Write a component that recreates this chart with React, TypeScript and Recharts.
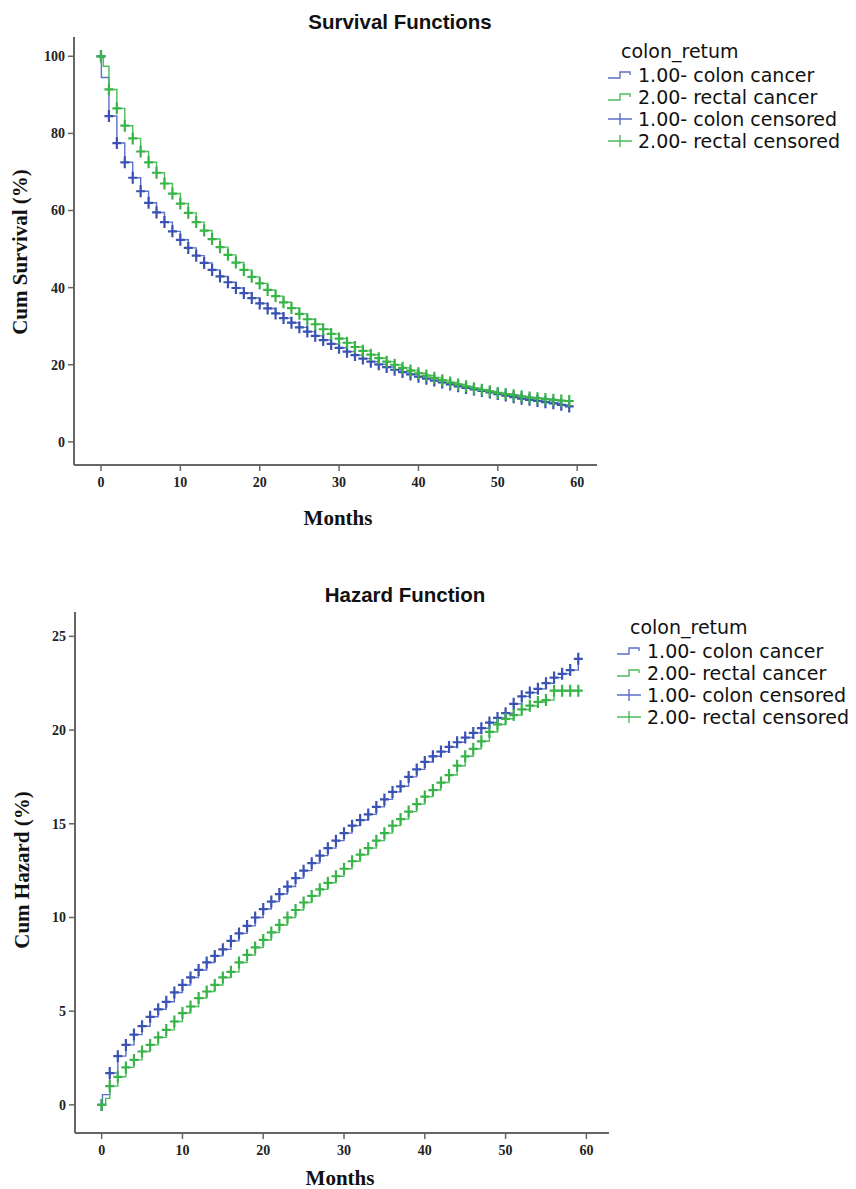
import React from "react";
import { ComposedChart, Line, Scatter, XAxis, YAxis } from "recharts";

// ---- data ----
const months = [
  0, 1, 2, 3, 4, 5, 6, 7, 8, 9, 10, 11, 12, 13, 14, 15, 16, 17, 18, 19,
  20, 21, 22, 23, 24, 25, 26, 27, 28, 29, 30, 31, 32, 33, 34, 35, 36, 37, 38, 39,
  40, 41, 42, 43, 44, 45, 46, 47, 48, 49, 50, 51, 52, 53, 54, 55, 56, 57, 58, 59,
];
const monthTicks = [0, 10, 20, 30, 40, 50, 60];
const survivalTicks = [0, 20, 40, 60, 80, 100];
const hazardTicks = [0, 5, 10, 15, 20, 25];

const survColon = [
  100, 84.5, 77.5, 72.5, 68.5, 65, 62, 59.5, 57, 54.6,
  52.4, 50.3, 48.3, 46.4, 44.6, 42.9, 41.4, 39.9, 38.6, 37.3,
  35.9, 34.6, 33.3, 32.1, 30.9, 29.7, 28.6, 27.5, 26.4, 25.4,
  24.4, 23.4, 22.5, 21.6, 20.8, 20.1, 19.4, 18.7, 18.1, 17.5,
  16.9, 16.4, 15.9, 15.4, 14.9, 14.4, 14.0, 13.6, 13.2, 12.8,
  12.4, 12.0, 11.6, 11.2, 10.9, 10.6, 10.3, 10.0, 9.6, 9.2,
];
const survRectal = [
  100, 91.4, 86.5, 82, 78.7, 75.3, 72.5, 69.8, 67, 64.4,
  61.8, 59.4, 57, 54.8, 52.6, 50.5, 48.5, 46.5, 44.6, 42.8,
  41.1, 39.4, 37.8, 36.2, 34.7, 33.2, 31.8, 30.5, 29.2, 28,
  26.8, 25.7, 24.6, 23.6, 22.6, 21.7, 20.8, 20.0, 19.2, 18.5,
  17.8, 17.2, 16.6, 16.0, 15.4, 14.9, 14.4, 13.9, 13.5, 13.1,
  12.7, 12.4, 12.1, 11.8, 11.5, 11.3, 11.1, 10.9, 10.7, 10.6,
];
const hazColon = [
  0, 1.7, 2.6, 3.2, 3.75, 4.2, 4.7, 5.1, 5.5, 6.0,
  6.4, 6.8, 7.2, 7.6, 7.95, 8.3, 8.75, 9.15, 9.55, 10.0,
  10.45, 10.85, 11.25, 11.65, 12.1, 12.5, 12.9, 13.3, 13.7, 14.1,
  14.5, 14.9, 15.2, 15.5, 15.9, 16.3, 16.7, 17.0, 17.5, 17.9,
  18.3, 18.6, 18.85, 19.1, 19.35, 19.6, 19.85, 20.1, 20.4, 20.65,
  20.9, 21.4, 21.8, 22.0, 22.2, 22.5, 22.8, 23.0, 23.2, 23.8,
];
const hazRectal = [
  0, 1.0, 1.5, 2.0, 2.4, 2.85, 3.2, 3.6, 4.0, 4.45,
  4.9, 5.25, 5.7, 6.05, 6.4, 6.8, 7.1, 7.6, 8.0, 8.4,
  8.8, 9.2, 9.6, 10.0, 10.4, 10.8, 11.15, 11.5, 11.85, 12.2,
  12.6, 13.0, 13.35, 13.7, 14.1, 14.5, 14.9, 15.25, 15.65, 16.05,
  16.45, 16.8, 17.2, 17.6, 18.1, 18.6, 19.0, 19.4, 19.9, 20.3,
  20.6, 20.8, 21.1, 21.3, 21.5, 21.6, 22.1, 22.1, 22.1, 22.1,
];
// early (sub-month) event steps: [month, value]
const survColonEarly = [0.05, 94.5];
const survRectalEarly = [0.3, 97.4];
const hazColonEarly = [0.1, 0.55];
const hazRectalEarly = [0.5, 0.35];

const legendTitle = "colon_retum";
const legendItems = [
  "1.00- colon cancer",
  "2.00- rectal cancer",
  "1.00- colon censored",
  "2.00- rectal censored",
];

// ---- styling ----
const BLUE_MARK = "#3A52B2";
const BLUE_LINE = "#5C70C8";
const GREEN_MARK = "#38B449";
const GREEN_LINE = "#4DBC5B";
const AXIS = "#666666";
const Y_W = 60;
const X_H = 30;

const marks = (vals: number[]) => months.map((m, i) => ({ m, v: vals[i] }));
const stepLine = (vals: number[], early: number[]) => {
  const pts = marks(vals);
  return [pts[0], { m: early[0], v: early[1] }, ...pts.slice(1)];
};

const Plus = (color: string) => (props: any) => {
  const { cx, cy } = props;
  if (cx == null || cy == null) return <g />;
  return (
    <path
      d={`M${cx - 4.5},${cy}H${cx + 4.5}M${cx},${cy - 6}V${cy + 6}`}
      stroke={color}
      strokeWidth={2.2}
      fill="none"
    />
  );
};

const tickStyle = {
  fontFamily: "'Liberation Serif', 'Times New Roman', serif",
  fontWeight: 700,
  fontSize: 14,
  fill: "#222",
};

const serifTitle: React.CSSProperties = {
  position: "absolute",
  fontFamily: "'Liberation Serif', 'Times New Roman', serif",
  fontWeight: 700,
  fontSize: 21,
  color: "#111",
  whiteSpace: "nowrap",
};

const sansTitle: React.CSSProperties = {
  position: "absolute",
  fontFamily: "'Liberation Sans', Arial, sans-serif",
  fontWeight: 700,
  fontSize: 20.5,
  color: "#111",
  whiteSpace: "nowrap",
  transform: "translate(-50%, -50%)",
};

function StepIcon({ color }: { color: string }) {
  return (
    <svg width={30} height={14} style={{ display: "block" }}>
      <path d="M2,10 H14 V4 H24 V7" stroke={color} strokeWidth={1.4} fill="none" />
    </svg>
  );
}
function CensorIcon({ color }: { color: string }) {
  return (
    <svg width={30} height={14} style={{ display: "block" }}>
      <path d="M2,7 H26 M14,1 V13" stroke={color} strokeWidth={1.4} fill="none" />
    </svg>
  );
}

function LegendBlock({ left, top, iconLeft }: { left: number; top: number; iconLeft: number }) {
  const colors = [BLUE_LINE, GREEN_LINE, BLUE_LINE, GREEN_LINE];
  return (
    <div
      style={{
        position: "absolute",
        left: iconLeft,
        top,
        fontFamily: "'DejaVu Sans', Verdana, sans-serif",
        fontSize: 19,
        color: "#111",
        lineHeight: "22px",
        whiteSpace: "nowrap",
      }}
    >
      <div style={{ paddingLeft: left - iconLeft, marginBottom: 2 }}>{legendTitle}</div>
      {legendItems.map((t, i) => (
        <div key={t} style={{ display: "flex", alignItems: "center", height: 22 }}>
          {i < 2 ? <StepIcon color={colors[i]} /> : <CensorIcon color={colors[i]} />}
          <span style={{ marginLeft: 2 }}>{t}</span>
        </div>
      ))}
    </div>
  );
}

function KMChart(props: {
  width: number;
  height: number;
  plot: { top: number; right: number; bottom: number; left: number };
  xDomain: [number, number];
  yDomain: [number, number];
  yTicks: number[];
  colon: number[];
  rectal: number[];
  colonEarly: number[];
  rectalEarly: number[];
}) {
  const { width, height, plot, xDomain, yDomain, yTicks, colon, rectal, colonEarly, rectalEarly } = props;
  const margin = {
    top: plot.top,
    right: plot.right,
    bottom: plot.bottom - X_H,
    left: plot.left - Y_W,
  };
  return (
    <ComposedChart width={width} height={height} margin={margin}>
      <XAxis
        type="number"
        dataKey="m"
        domain={xDomain}
        ticks={monthTicks}
        allowDataOverflow
        height={X_H}
        axisLine={{ stroke: AXIS, strokeWidth: 2 }}
        tickLine={{ stroke: AXIS, strokeWidth: 1.5 }}
        tickSize={6}
        tickMargin={6}
        tick={tickStyle}
        interval={0}
      />
      <YAxis
        type="number"
        dataKey="v"
        domain={yDomain}
        ticks={yTicks}
        allowDataOverflow
        width={Y_W}
        axisLine={{ stroke: AXIS, strokeWidth: 2 }}
        tickLine={{ stroke: AXIS, strokeWidth: 1.5 }}
        tickSize={6}
        tickMargin={3}
        tick={tickStyle}
        interval={0}
      />
      <Line
        data={stepLine(colon, colonEarly)}
        dataKey="v"
        type="stepAfter"
        stroke={BLUE_LINE}
        strokeWidth={1.4}
        dot={false}
        activeDot={false}
        isAnimationActive={false}
      />
      <Line
        data={stepLine(rectal, rectalEarly)}
        dataKey="v"
        type="stepAfter"
        stroke={GREEN_LINE}
        strokeWidth={1.4}
        dot={false}
        activeDot={false}
        isAnimationActive={false}
      />
      <Scatter data={marks(colon)} dataKey="v" shape={Plus(BLUE_MARK)} isAnimationActive={false} />
      <Scatter data={marks(rectal)} dataKey="v" shape={Plus(GREEN_MARK)} isAnimationActive={false} />
    </ComposedChart>
  );
}

export default function App() {
  return (
    <div style={{ position: "relative", width: 856, height: 1189, background: "#fff" }}>
      <style>{`body{margin:0;background:#fff}`}</style>

      {/* Survival chart */}
      <div style={{ position: "absolute", left: 0, top: 0 }}>
        <KMChart
          width={856}
          height={560}
          plot={{ top: 37, right: 259, bottom: 95, left: 74 }}
          xDomain={[-3.4, 62.5]}
          yDomain={[-6, 105]}
          yTicks={survivalTicks}
          colon={survColon}
          rectal={survRectal}
          colonEarly={survColonEarly}
          rectalEarly={survRectalEarly}
        />
      </div>
      <div style={{ ...sansTitle, left: 400, top: 22 }}>Survival Functions</div>
      <div style={{ ...serifTitle, left: 338, top: 518, transform: "translate(-50%, -50%)" }}>Months</div>
      <div style={{ ...serifTitle, left: 20, top: 252, transform: "translate(-50%, -50%) rotate(-90deg)" }}>
        Cum Survival (%)
      </div>
      <LegendBlock left={621} iconLeft={606} top={40} />

      {/* Hazard chart */}
      <div style={{ position: "absolute", left: 0, top: 580 }}>
        <KMChart
          width={856}
          height={609}
          plot={{ top: 32, right: 247, bottom: 56, left: 75 }}
          xDomain={[-3.3, 62.8]}
          yDomain={[-1.5, 26.3]}
          yTicks={hazardTicks}
          colon={hazColon}
          rectal={hazRectal}
          colonEarly={hazColonEarly}
          rectalEarly={hazRectalEarly}
        />
      </div>
      <div style={{ ...sansTitle, left: 405, top: 595 }}>Hazard Function</div>
      <div style={{ ...serifTitle, left: 340, top: 1178, transform: "translate(-50%, -50%)" }}>Months</div>
      <div style={{ ...serifTitle, left: 22, top: 870, transform: "translate(-50%, -50%) rotate(-90deg)" }}>
        Cum Hazard (%)
      </div>
      <LegendBlock left={630} iconLeft={615} top={616} />
    </div>
  );
}
